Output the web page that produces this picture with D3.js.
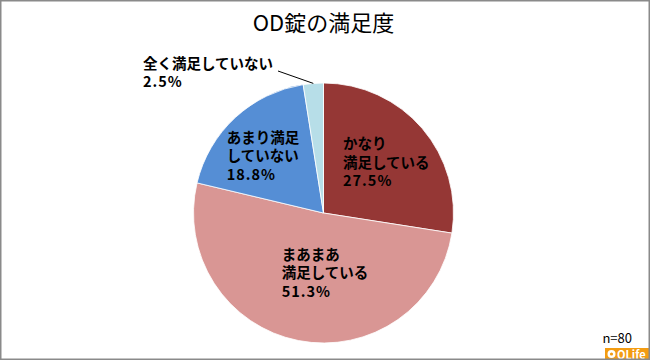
<!DOCTYPE html>
<html><head><meta charset="utf-8">
<script src="https://cdn.jsdelivr.net/npm/d3@7"></script>
<style>
html,body{margin:0;padding:0;background:#fff;}
svg{display:block;}
text{font-family:"Noto Sans CJK JP","Noto Sans",sans-serif;}
</style></head>
<body>
<svg id="chart" width="650" height="360"></svg>
<script>
// ---- data ----
const title = "OD錠の満足度";
const categories = ["かなり満足している", "まあまあ満足している", "あまり満足していない", "全く満足していない"];
const labelLines = [["かなり", "満足している"], ["まあまあ", "満足している"], ["あまり満足", "していない"], ["全く満足していない"]];
const values = [27.5, 51.3, 18.8, 2.5];
const colors = ["#953735", "#D99694", "#558ED5", "#B7DEE8"];
const sampleNote = "n=80";
const brand = "QLife";

// ---- layout ----
const W = 650, H = 360;
const cx = 323.5, cy = 213, R = 130;
const labelR = 80;
const labelOffsets = [[2, 2], [17, -18], [-6, 2], null];
const lineH = 18.5;

const svg = d3.select("#chart");

svg.append("text").attr("x", 323.5).attr("y", 30.5).attr("text-anchor", "middle")
  .attr("font-size", 22).attr("fill", "#000").text(title);

const pie = d3.pie().sort(null).value(d => d);
const arcs = pie(values);
const arc = d3.arc().innerRadius(0).outerRadius(R);
const labelArc = d3.arc().innerRadius(labelR).outerRadius(labelR);

const g = svg.append("g").attr("transform", `translate(${cx},${cy})`);
g.selectAll("path").data(arcs).join("path")
  .attr("d", arc).attr("fill", (d, i) => colors[i])
  .attr("stroke", "#fff").attr("stroke-width", 0.8);

const fmt = v => v.toFixed(1) + "%";

arcs.forEach((a, i) => {
  const lines = labelLines[i].concat([fmt(values[i])]);
  if (labelOffsets[i]) {
    const c = labelArc.centroid(a);
    const t = g.append("text").attr("font-size", 14.5).attr("font-weight", "bold").attr("fill", "#000");
    lines.forEach((l, k) => {
      t.append("tspan").attr("x", 0).attr("y", k * lineH).text(l)
        .attr("letter-spacing", k === lines.length - 1 ? 1 : 0);
    });
    const bb = t.node().getBBox();
    const x = c[0] + labelOffsets[i][0] - bb.width / 2;
    const y = c[1] + labelOffsets[i][1] - (lines.length - 1) * lineH / 2 + 5;
    t.attr("transform", `translate(${x},${y})`);
  } else {
    // outside label with leader line
    const mid = (a.startAngle + a.endAngle) / 2;
    const ex = R * Math.sin(mid), ey = -R * Math.cos(mid);
    const sx = 278 - cx, sy = 71 - cy;
    g.append("line").attr("x1", sx).attr("y1", sy).attr("x2", ex).attr("y2", ey)
      .attr("stroke", "#000").attr("stroke-width", 1);
    const t = g.append("text").attr("font-size", 14.5).attr("font-weight", "bold").attr("fill", "#000");
    lines.forEach((l, k) => {
      t.append("tspan").attr("x", 143 - cx).attr("y", 68.5 - cy + k * lineH).text(l)
        .attr("letter-spacing", k === lines.length - 1 ? 1 : 0);
    });
  }
});

svg.append("text").attr("x", 632).attr("y", 343).attr("text-anchor", "end")
  .attr("font-size", 13).attr("fill", "#000").text(sampleNote);

// brand badge
svg.append("rect").attr("x", 605).attr("y", 348).attr("width", 45).attr("height", 12).attr("fill", "#F39C12");
svg.append("circle").attr("cx", 611.5).attr("cy", 354).attr("r", 4).attr("fill", "#fff");
svg.append("circle").attr("cx", 611.5).attr("cy", 354).attr("r", 1.6).attr("fill", "#F39C12");
svg.append("text").attr("x", 617).attr("y", 358.5).attr("font-size", 11).attr("font-weight", "bold")
  .attr("fill", "#fff").attr("font-family", "Arial, Liberation Sans, sans-serif").text(brand);

// frame
svg.append("rect").attr("x", 0.75).attr("y", 0.75).attr("width", W - 1.5).attr("height", H - 1.5)
  .attr("fill", "none").attr("stroke", "#8a8a8a").attr("stroke-width", 1.5);
</script>
</body></html>
